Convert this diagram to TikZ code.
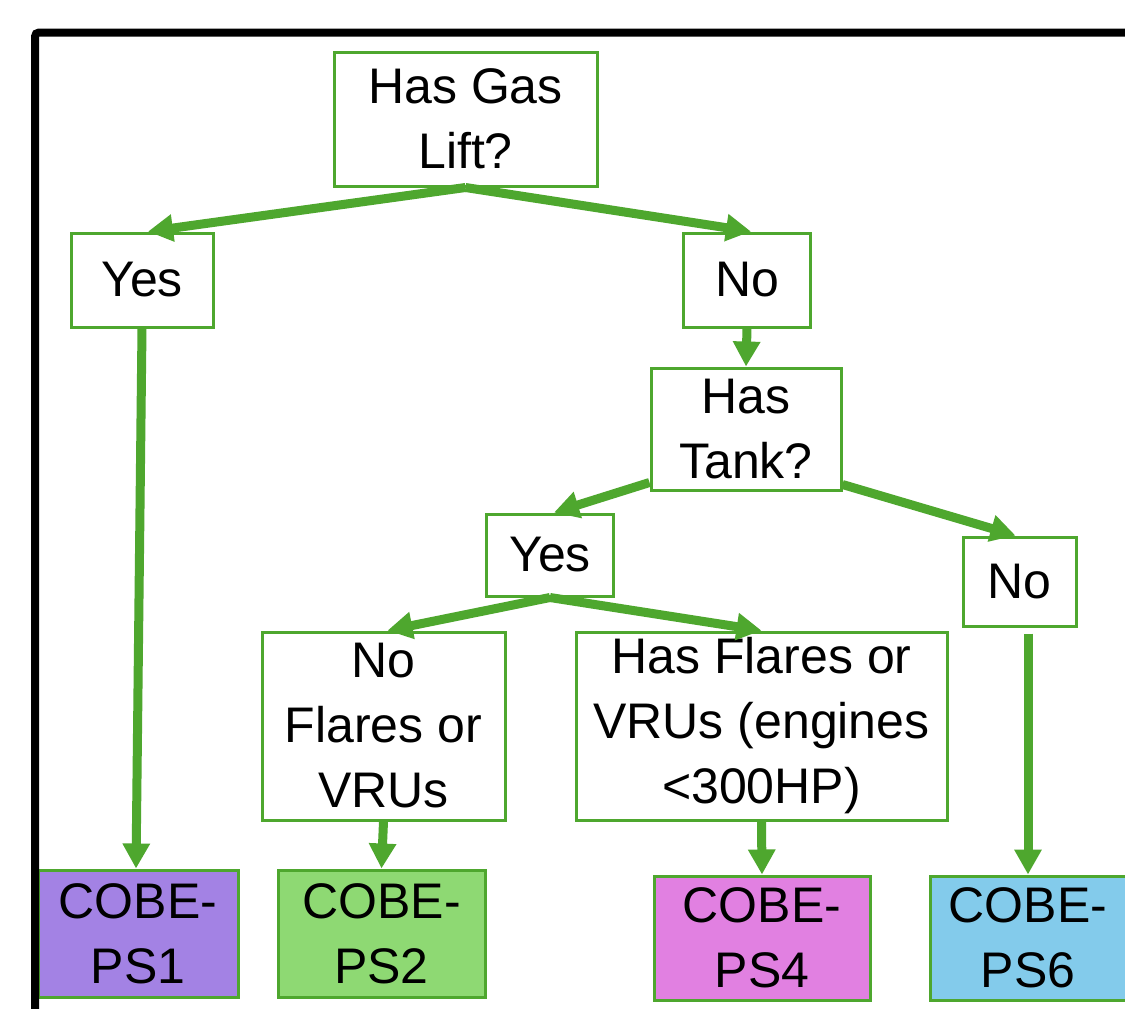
\documentclass[tikz,border=0pt]{standalone}
\usepackage{fontspec}
\setmainfont{Liberation Sans}
\usetikzlibrary{arrows.meta,calc}
\definecolor{boxgreen}{HTML}{4EA72E}
\definecolor{arrgreen}{HTML}{4EA72E}
\definecolor{fillpurple}{HTML}{A382E4}
\definecolor{fillgreen}{HTML}{8ED973}
\definecolor{fillpink}{HTML}{E180E1}
\definecolor{fillblue}{HTML}{83CBEB}
\tikzset{
  qbox/.style={draw=boxgreen, line width=1.5pt, fill=white, inner sep=0pt, align=center,
    font=\fontsize{25}{32.5}\selectfont},
  flowarrow/.style={draw=arrgreen, line width=4.5pt, -{Triangle[length=12.5pt,width=13pt]}},
}
\begin{document}
\begin{tikzpicture}[x=0.5pt,y=-0.5pt]
\useasboundingbox (0,0) rectangle (1125,1008);
\clip (0,0) rectangle (1125,1008);
\fill[white] (0,0) rectangle (1125,1008);

\node[qbox, minimum width=131.5pt, minimum height=67pt] (gas) at (465.5,119) {Has Gas\\Lift?};
\node[qbox, minimum width=71pt, minimum height=47pt] (yes1) at (142,280) {Yes};
\node[qbox, minimum width=63.5pt, minimum height=47pt] (no1) at (747,280) {No};
\node[qbox, minimum width=95pt, minimum height=61pt] (tank) at (746,429) {Has\\Tank?};
\node[qbox, minimum width=63.5pt, minimum height=41pt] (yes2) at (550,555) {Yes};
\node[qbox, minimum width=56.5pt, minimum height=44.5pt] (no2) at (1019.5,581.5) {No};
\node[qbox, minimum width=121.5pt, minimum height=94pt] (noflares) at (383.5,726) {No\\Flares or\\VRUs};
\node[qbox, minimum width=185.5pt, minimum height=94pt] (hasflares) at (761.5,726) {Has Flares or\\VRUs (engines\\{<}300HP)};

\node[qbox, fill=fillpurple, minimum width=100pt, minimum height=63.5pt] (ps1) at (138,933.5) {COBE-\\PS1};
\node[qbox, fill=fillgreen, minimum width=103.5pt, minimum height=63.5pt] (ps2) at (381.5,933.5) {COBE-\\PS2};
\node[qbox, fill=fillpink, minimum width=108pt, minimum height=62pt] (ps4) at (762,938) {COBE-\\PS4};
\node[qbox, fill=fillblue, minimum width=98pt, minimum height=62pt] (ps6) at (1028,938) {COBE-\\PS6};

% black frame
\draw[black, line width=4pt, rounded corners=2pt] (35,32.5) rectangle (1300,1200);

% connectors
\draw[flowarrow] (gas.south) -- ([xshift=3pt]yes1.north);
\draw[flowarrow] (gas.south) -- ([xshift=2pt]no1.north);
\draw[flowarrow] (yes1.south) -- ([xshift=-1pt]ps1.north);
\draw[flowarrow] (no1.south) -- (tank.north);
\draw[flowarrow] ([yshift=4.5pt]tank.south west) -- ([xshift=2pt]yes2.north);
\draw[flowarrow] ([yshift=3.5pt]tank.south east) -- ([xshift=-2pt]no2.north);
\draw[flowarrow] (yes2.south) -- ([xshift=2pt]noflares.north);
\draw[flowarrow] (yes2.south) -- (hasflares.north);
\draw[flowarrow] (noflares.south) -- (ps2.north);
\draw[flowarrow] (hasflares.south) -- (ps4.north);
\draw[flowarrow] ([yshift=-3pt]ps6.north |- no2.south) -- (ps6.north);
\end{tikzpicture}
\end{document}
